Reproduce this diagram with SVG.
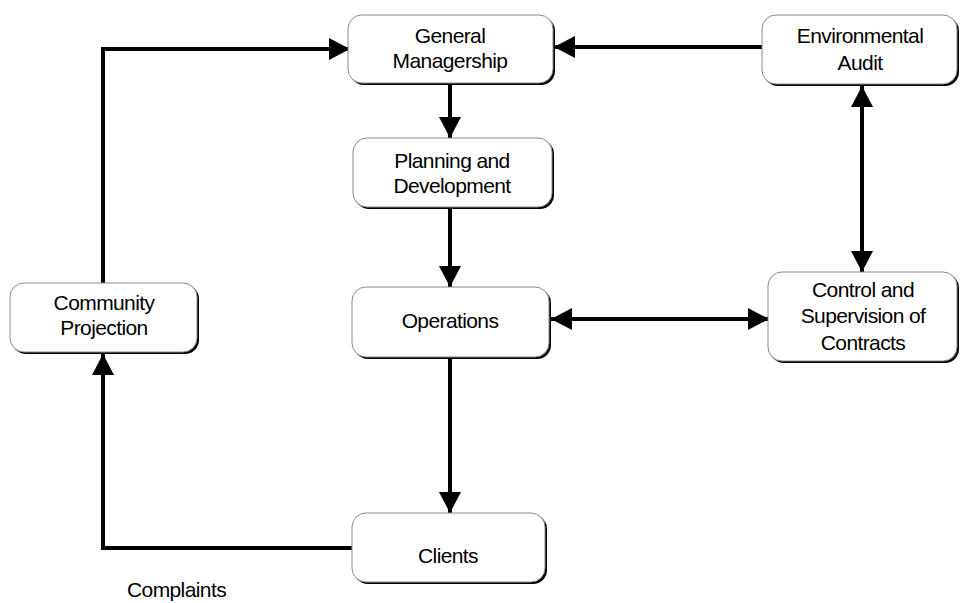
<svg xmlns="http://www.w3.org/2000/svg" width="961" height="603" viewBox="0 0 961 603">
  <style>
    .shadow { fill: #000; }
    .box { fill: #fff; stroke: #8a8a8a; stroke-width: 1; }
    .label { font-family: "Liberation Sans", Arial, sans-serif; font-size: 21px; letter-spacing: -0.6px; fill: #000; text-anchor: middle; }
    .free { font-family: "Liberation Sans", Arial, sans-serif; font-size: 21px; letter-spacing: -0.6px; fill: #000; }
    .conn { fill: none; stroke: #000; stroke-width: 4; stroke-linejoin: miter; }
  </style>
  <defs>
    <marker id="arrow-end" viewBox="0 0 21 22" refX="21" refY="11" markerWidth="21" markerHeight="22" markerUnits="userSpaceOnUse" orient="auto">
      <path d="M0,0 L21,11 L0,22 Z" fill="#000"/>
    </marker>
    <marker id="arrow-start" viewBox="0 0 21 22" refX="0" refY="11" markerWidth="21" markerHeight="22" markerUnits="userSpaceOnUse" orient="auto">
      <path d="M21,0 L0,11 L21,22 Z" fill="#000"/>
    </marker>
  </defs>

  <g id="connectors">
    <line class="conn" x1="450" y1="84" x2="450" y2="138" marker-end="url(#arrow-end)"/>
    <line class="conn" x1="450" y1="208" x2="450" y2="287" marker-end="url(#arrow-end)"/>
    <line class="conn" x1="450" y1="358" x2="450" y2="513" marker-end="url(#arrow-end)"/>
    <line class="conn" x1="551" y1="319" x2="769" y2="319" marker-start="url(#arrow-start)" marker-end="url(#arrow-end)"/>
    <line class="conn" x1="862" y1="86" x2="862" y2="272" marker-start="url(#arrow-start)" marker-end="url(#arrow-end)"/>
    <line class="conn" x1="762" y1="47" x2="554" y2="47" marker-end="url(#arrow-end)"/>
    <polyline class="conn" points="103,283 103,49 350,49" marker-end="url(#arrow-end)"/>
    <polyline class="conn" points="353,548 103,548 103,354" marker-end="url(#arrow-end)"/>
  </g>

  <g id="general-managership">
    <rect class="shadow" x="350" y="17" width="205" height="68" rx="14"/>
    <rect class="box" x="348" y="15" width="205" height="68" rx="14"/>
    <text class="label" x="450" y="43">General</text>
    <text class="label" x="450" y="68">Managership</text>
  </g>

  <g id="environmental-audit">
    <rect class="shadow" x="764" y="17" width="195" height="69" rx="14"/>
    <rect class="box" x="762" y="15" width="195" height="69" rx="14"/>
    <text class="label" x="860" y="43">Environmental</text>
    <text class="label" x="860" y="70">Audit</text>
  </g>

  <g id="planning-development">
    <rect class="shadow" x="355" y="140" width="199" height="69" rx="14"/>
    <rect class="box" x="353" y="138" width="199" height="69" rx="14"/>
    <text class="label" x="452" y="168">Planning and</text>
    <text class="label" x="452" y="193">Development</text>
  </g>

  <g id="community-projection">
    <rect class="shadow" x="12" y="285" width="187" height="69" rx="14"/>
    <rect class="box" x="10" y="283" width="187" height="69" rx="14"/>
    <text class="label" x="104" y="310">Community</text>
    <text class="label" x="104" y="335">Projection</text>
  </g>

  <g id="operations">
    <rect class="shadow" x="354" y="289" width="197" height="70" rx="14"/>
    <rect class="box" x="352" y="287" width="197" height="70" rx="14"/>
    <text class="label" x="450" y="328">Operations</text>
  </g>

  <g id="control-supervision">
    <rect class="shadow" x="770" y="274" width="189" height="89" rx="14"/>
    <rect class="box" x="768" y="272" width="189" height="89" rx="14"/>
    <text class="label" x="863" y="297">Control and</text>
    <text class="label" x="863" y="323">Supervision of</text>
    <text class="label" x="863" y="350">Contracts</text>
  </g>

  <g id="clients">
    <rect class="shadow" x="354" y="515" width="193" height="69" rx="14"/>
    <rect class="box" x="352" y="513" width="193" height="69" rx="14"/>
    <text class="label" x="448" y="563">Clients</text>
  </g>

  <text class="free" x="127" y="597">Complaints</text>
</svg>
